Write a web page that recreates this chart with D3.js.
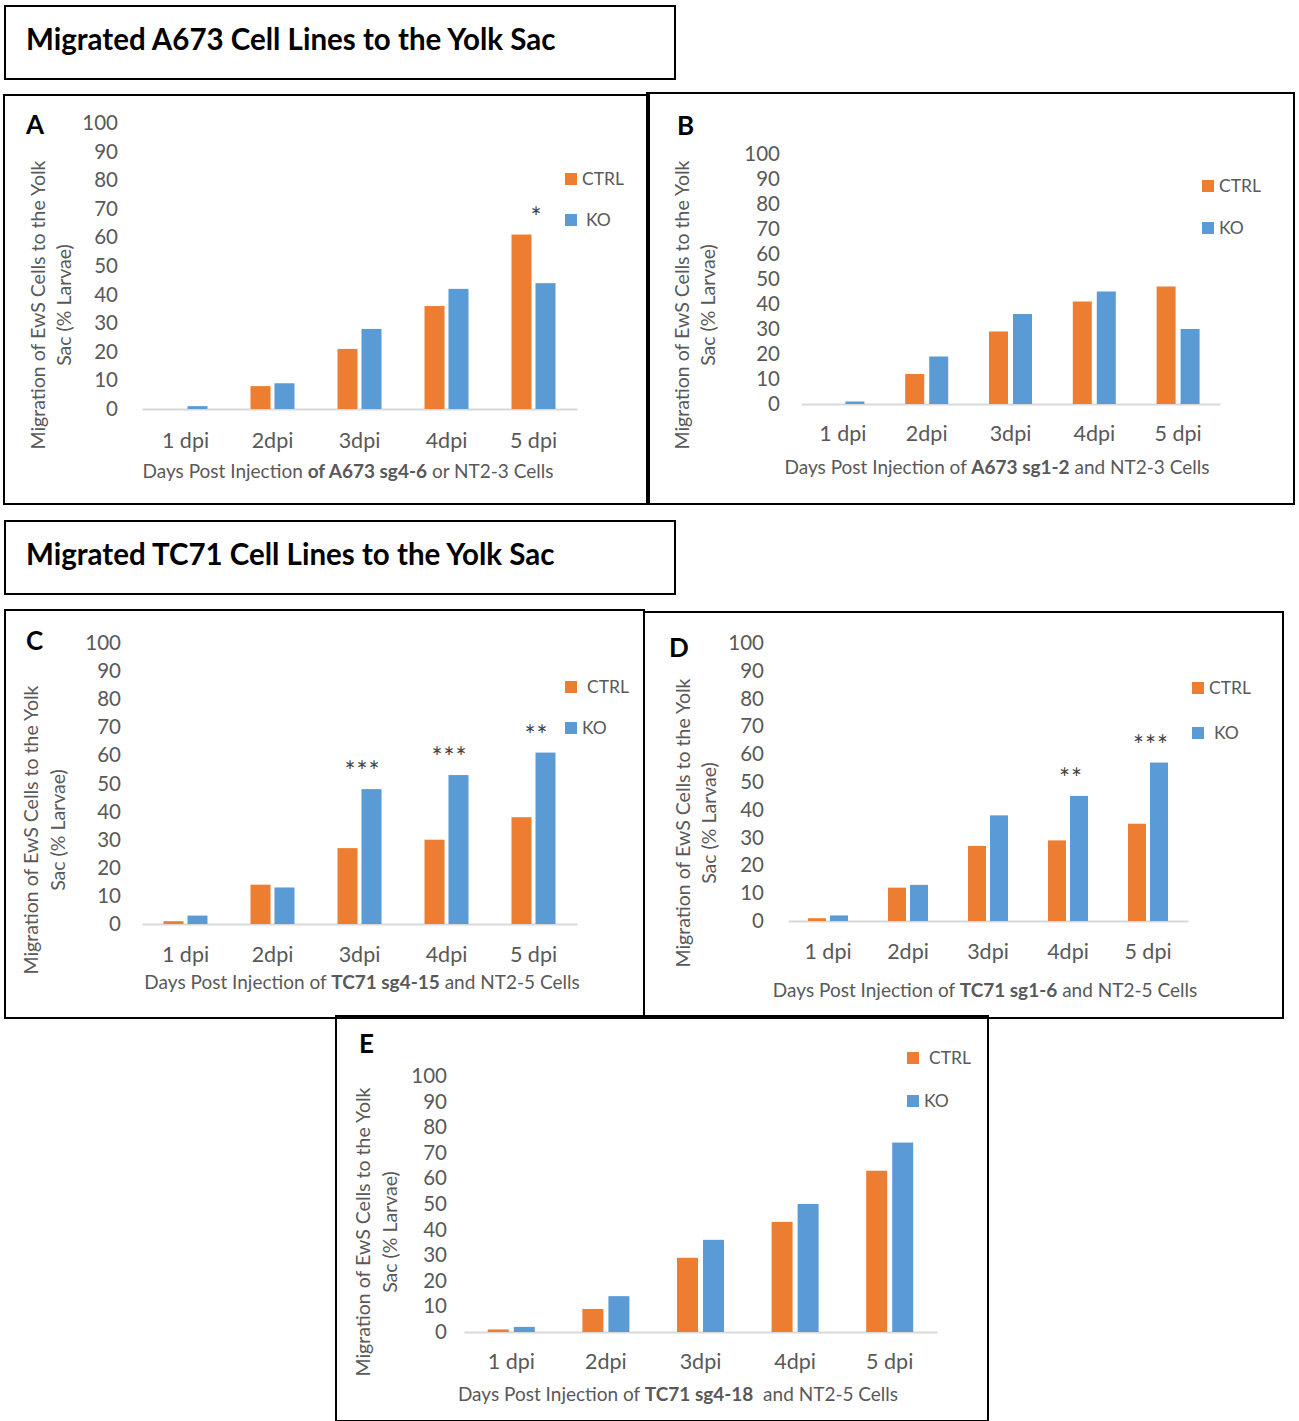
<!DOCTYPE html>
<html>
<head>
<meta charset="utf-8">
<script src="https://cdn.jsdelivr.net/npm/d3@7"></script>
<style>
  html, body { margin: 0; padding: 0; background: #fff; }
  svg { display: block; font-family: Lato, "Open Sans", sans-serif; }
</style>
</head>
<body>
<script>
// data (% of larvae with migrated cells)
var categories = ['1 dpi', '2dpi', '3dpi', '4dpi', '5 dpi'];
var seriesNames = ['CTRL', 'KO'];
var yTicks = [0, 10, 20, 30, 40, 50, 60, 70, 80, 90, 100];

var ctrlA = [0, 8, 21, 36, 61];
var koA   = [1, 9, 28, 42, 44];
var sigA  = ['', '', '', '', '*'];

var ctrlB = [0, 12, 29, 41, 47];
var koB   = [1, 19, 36, 45, 30];
var sigB  = ['', '', '', '', ''];

var ctrlC = [1, 14, 27, 30, 38];
var koC   = [3, 13, 48, 53, 61];
var sigC  = ['', '', '***', '***', '**'];

var ctrlD = [1, 12, 27, 29, 35];
var koD   = [2, 13, 38, 45, 57];
var sigD  = ['', '', '', '**', '***'];

var ctrlE = [1, 9, 29, 43, 63];
var koE   = [2, 14, 36, 50, 74];
var sigE  = ['', '', '', '', ''];

var headers = ['Migrated A673 Cell Lines to the Yolk Sac', 'Migrated TC71 Cell Lines to the Yolk Sac'];
var yTitle = ['Migration of EwS Cells to the Yolk', 'Sac (% Larvae)'];

var COLORS = {CTRL: '#ED7D31', KO: '#5B9BD5'};
var GREY = '#595959';

var svg = d3.select('body').append('svg')
  .attr('width', 1299)
  .attr('height', 1421);

// header boxes
var headerBoxes = [[5, 6, 675, 79], [5, 521, 675, 594]];
headerBoxes.forEach(function(b, i) {
  svg.append('rect')
    .attr('x', b[0]).attr('y', b[1])
    .attr('width', b[2] - b[0]).attr('height', b[3] - b[1])
    .attr('fill', 'none').attr('stroke', '#000').attr('stroke-width', 2);
  svg.append('text')
    .attr('x', 26).attr('y', (b[1] + b[3]) / 2 + 7)
    .attr('font-size', 29.5).attr('font-weight', 'bold')
    .attr('fill', '#000')
    .text(headers[i]);
});

var panels = [
  {letter: 'A', ctrl: ctrlA, ko: koA, sig: sigA,
   box: [4, 95, 649, 504], xr: [142, 577], y0: 409, y100: 123, tickX: 118,
   letterPos: [26, 134], leg: [565, 179, 220, 582, 586], yt: [38, 64, 305],
   xLabY: 441, xTitle: [348, 472], barW: 20, gap: 4,
   title: ['Days Post Injection ', 'of A673 sg4-6', ' or NT2-3 Cells']},
  {letter: 'B', ctrl: ctrlB, ko: koB, sig: sigB,
   box: [647, 93, 1294, 504], xr: [801, 1220], y0: 404, y100: 154, tickX: 780,
   letterPos: [677, 135], leg: [1202, 186, 228, 1219, 1219], yt: [682, 708, 305],
   xLabY: 434, xTitle: [997, 468], barW: 19, gap: 5,
   title: ['Days Post Injection of ', 'A673 sg1-2', ' and NT2-3 Cells']},
  {letter: 'C', ctrl: ctrlC, ko: koC, sig: sigC,
   box: [5, 610, 644, 1018], xr: [142, 577], y0: 924, y100: 643, tickX: 121,
   letterPos: [26, 650], leg: [565, 687, 728, 587, 582], yt: [31, 58, 830],
   xLabY: 955, xTitle: [362, 983], barW: 20, gap: 4,
   title: ['Days Post Injection of ', 'TC71 sg4-15', ' and NT2-5 Cells']},
  {letter: 'D', ctrl: ctrlD, ko: koD, sig: sigD,
   box: [644, 612, 1283, 1018], xr: [788, 1188], y0: 921, y100: 643, tickX: 764,
   letterPos: [669, 657], leg: [1192, 688, 733, 1209, 1214], yt: [683, 709, 823],
   xLabY: 952, xTitle: [985, 991], barW: 18, gap: 4,
   title: ['Days Post Injection of ', 'TC71 sg1-6', ' and NT2-5 Cells']},
  {letter: 'E', ctrl: ctrlE, ko: koE, sig: sigE,
   box: [336, 1016, 988, 1421], xr: [464, 937], y0: 1332, y100: 1076, tickX: 447,
   letterPos: [359, 1053], leg: [907, 1058, 1101, 929, 924], yt: [363, 390, 1232],
   xLabY: 1362, xTitle: [678, 1395], barW: 21, gap: 5,
   title: ['Days Post Injection of ', 'TC71 sg4-18', '  and NT2-5 Cells']}
];

panels.forEach(drawPanel);

function drawPanel(p) {
  var g = svg.append('g');

  g.append('rect')
    .attr('x', p.box[0]).attr('y', p.box[1])
    .attr('width', p.box[2] - p.box[0]).attr('height', p.box[3] - p.box[1])
    .attr('fill', 'none').attr('stroke', '#000').attr('stroke-width', 2);

  g.append('text')
    .attr('x', p.letterPos[0]).attr('y', p.letterPos[1])
    .attr('font-size', 26).attr('font-weight', 'bold')
    .text(p.letter);

  var x = d3.scaleBand().domain(categories).range(p.xr);
  var y = d3.scaleLinear().domain([0, 100]).range([p.y0, p.y100]);
  var half = p.barW + p.gap / 2;
  var xs = d3.scaleBand().domain(seriesNames)
    .range([-half, half])
    .paddingInner(p.gap / (p.barW + p.gap));

  // y axis (labels only)
  var yAxis = g.append('g')
    .attr('transform', 'translate(' + (p.tickX + 3) + ',0)')
    .call(d3.axisLeft(y).tickValues(yTicks).tickSize(0).tickPadding(3));
  yAxis.select('.domain').remove();
  yAxis.selectAll('text')
    .attr('font-size', 20.5).attr('fill', GREY)
    .attr('font-family', 'Lato, sans-serif');

  // x axis baseline and category labels
  var xAxis = g.append('g')
    .attr('transform', 'translate(0,' + p.y0 + ')')
    .call(d3.axisBottom(x).tickSize(0).tickPadding(p.xLabY - p.y0 - 8));
  xAxis.select('.domain').attr('stroke', '#D9D9D9').attr('stroke-width', 2);
  xAxis.selectAll('text')
    .attr('font-size', 21.5).attr('fill', GREY)
    .attr('font-family', 'Lato, sans-serif');

  // bars
  var rows = categories.map(function(c, i) {
    return {cat: c, vals: [{s: 'CTRL', v: p.ctrl[i]}, {s: 'KO', v: p.ko[i]}], sig: p.sig[i]};
  });

  var groups = g.selectAll('.grp')
    .data(rows)
    .enter()
    .append('g')
    .attr('transform', function(d) { return 'translate(' + (x(d.cat) + x.bandwidth() / 2) + ',0)'; });

  groups.selectAll('rect')
    .data(function(d) { return d.vals.filter(function(e) { return e.v > 0; }); })
    .enter()
    .append('rect')
    .attr('x', function(d) { return xs(d.s); })
    .attr('width', xs.bandwidth())
    .attr('y', function(d) { return y(d.v); })
    .attr('height', function(d) { return p.y0 - y(d.v); })
    .attr('fill', function(d) { return COLORS[d.s]; });

  // significance marks
  groups.append('text')
    .attr('x', 3)
    .attr('y', function(d) { return y(d3.max(d.vals, function(e) { return e.v; })) - 8; })
    .attr('text-anchor', 'middle')
    .attr('font-size', 26).attr('fill', '#404040')
    .attr('letter-spacing', 1)
    .text(function(d) { return d.sig; });

  // legend
  seriesNames.forEach(function(s, i) {
    var cy = p.leg[1 + i];
    g.append('rect')
      .attr('x', p.leg[0]).attr('y', cy - 6)
      .attr('width', 12).attr('height', 12)
      .attr('fill', COLORS[s]);
    g.append('text')
      .attr('x', p.leg[3 + i]).attr('y', cy + 6)
      .attr('font-size', 17.5).attr('fill', GREY)
      .text(s);
  });

  // y title, two lines rotated
  yTitle.forEach(function(t, i) {
    var cx = p.yt[i];
    g.append('text')
      .attr('transform', 'translate(' + (cx + 7) + ',' + p.yt[2] + ') rotate(-90)')
      .attr('text-anchor', 'middle')
      .attr('font-size', 19.5).attr('fill', GREY)
      .text(t);
  });

  // x title with bold cell line name
  var xt = g.append('text')
    .attr('x', p.xTitle[0]).attr('y', p.xTitle[1] + 6)
    .attr('text-anchor', 'middle')
    .attr('font-size', 19).attr('fill', GREY)
    .attr('xml:space', 'preserve')
    .style('white-space', 'pre');
  p.title.forEach(function(t, i) {
    xt.append('tspan')
      .attr('font-weight', i === 1 ? 'bold' : null)
      .text(t);
  });
}
</script>
</body>
</html>
